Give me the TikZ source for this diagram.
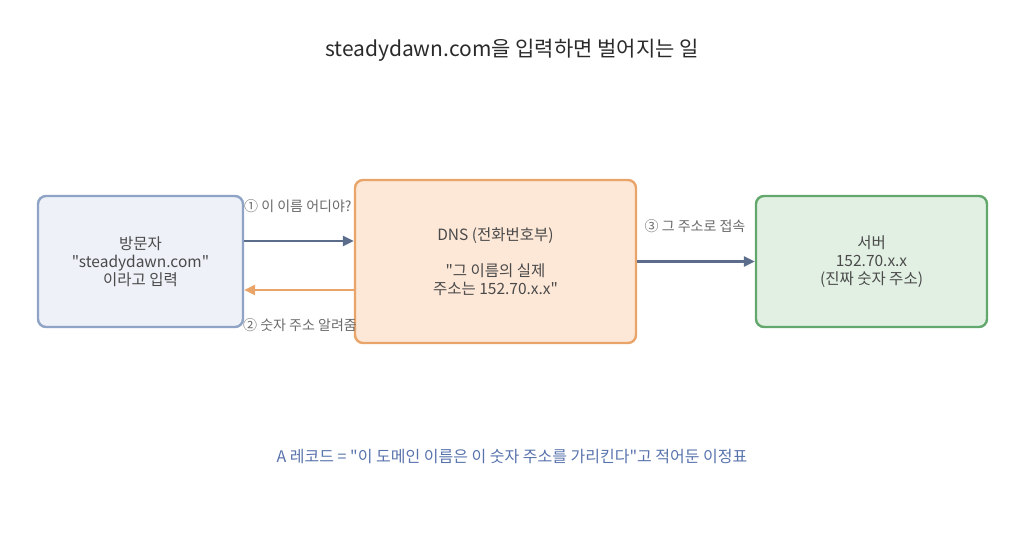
\documentclass[tikz,border=0pt]{standalone}
\usepackage{fontspec}
\setmainfont{Noto Sans CJK KR}[Ligatures=TeXOff]
\usetikzlibrary{calc,arrows.meta}
\definecolor{visitorfill}{HTML}{EEF1F8}
\definecolor{visitordraw}{HTML}{8EA3C5}
\definecolor{dnsfill}{HTML}{FDE7D7}
\definecolor{dnsdraw}{HTML}{E9A569}
\definecolor{serverfill}{HTML}{E2F0E3}
\definecolor{serverdraw}{HTML}{62A86C}
\definecolor{askline}{HTML}{5B6D8A}
\definecolor{labelgray}{HTML}{6A6A6A}
\definecolor{notecolor}{HTML}{5873AC}
\definecolor{titlecolor}{HTML}{2A2A2A}

\begin{document}
\begin{tikzpicture}[
    x=1pt,y=-1pt,
    box/.style={rounded corners=8pt,line width=2.4pt,align=center,
        font={\fontsize{15.5}{18}\selectfont},text=titlecolor!85,inner sep=0pt},
    step label/.style={font={\fontsize{14}{16}\selectfont},text=labelgray,inner sep=0pt},
    flow/.style={line width=2.4pt,-{Triangle[length=11pt,width=10pt]}},
    ]

    % Frame
    \useasboundingbox (0,0) rectangle (1024,540);

    % Title
    \node[font={\fontsize{21}{25}\selectfont},text=titlecolor] (title) at (512,50)
        {steadydawn.com을 입력하면 벌어지는 일};

    % Boxes
    \node[box,fill=visitorfill,draw=visitordraw,minimum width=205pt,minimum height=131pt]
        (visitor) at (140.5,261.5) {방문자\\"steadydawn.com"\\이라고 입력};
    \node[box,fill=dnsfill,draw=dnsdraw,minimum width=281pt,minimum height=163pt]
        (dns) at (495.5,261.5) {DNS (전화번호부)\\[18pt]"그 이름의 실제\\주소는 152.70.x.x"};
    \node[box,fill=serverfill,draw=serverdraw,minimum width=231pt,minimum height=131pt]
        (server) at (871.5,261.5) {서버\\152.70.x.x\\(진짜 숫자 주소)};

    % Arrows
    \draw[flow,askline] ($(visitor.east)+(0,-20.5)$) -- ($(dns.west)+(0,-20.5)$);
    \draw[flow,dnsdraw] ($(dns.west)+(0,28.5)$) -- ($(visitor.east)+(0,28.5)$);
    \draw[flow,askline] (dns.east) -- (server.west);

    % Step labels
    \node[step label,anchor=west] (ask) at (244,206) {① 이 이름 어디야?};
    \node[step label,anchor=west] (reply) at (243,325) {② 숫자 주소 알려줌};
    \node[step label] (connect) at (695,226) {③ 그 주소로 접속};

    % Note
    \node[font={\fontsize{16}{18}\selectfont},text=notecolor] (note) at (512,457)
        {A 레코드 = "이 도메인 이름은 이 숫자 주소를 가리킨다"고 적어둔 이정표};

\end{tikzpicture}
\end{document}
